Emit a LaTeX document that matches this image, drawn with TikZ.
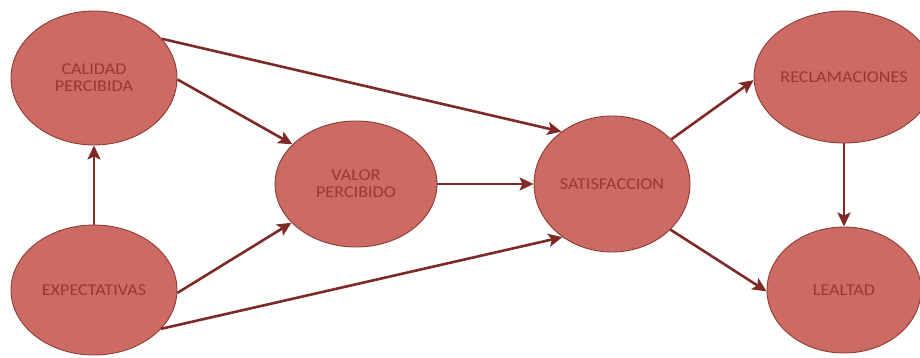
\documentclass[tikz,border=0pt]{standalone}
\usepackage{fontspec}
\setmainfont[FakeStretch=1.1]{Carlito}
\usetikzlibrary{shapes.geometric,arrows.meta}
\definecolor{bubblefill}{HTML}{CC6B63}
\definecolor{bubbleline}{HTML}{8E3A35}
\definecolor{bubbletext}{HTML}{983832}
\definecolor{arrowcol}{HTML}{7E2A26}
\tikzset{
  bubble/.style n args={2}{ellipse, draw=bubbleline, line width=0.9pt,
    fill=bubblefill, text=bubbletext, align=center, inner sep=0pt,
    minimum width=#1, minimum height=#2,
    font=\fontsize{16.5}{17}\selectfont},
  link/.style={draw=arrowcol, line width=2.6pt,
    -{Stealth[length=14pt,width=13pt,inset=3pt]}},
}
\begin{document}
\begin{tikzpicture}[x=1pt,y=-1pt]
  \useasboundingbox (0,0) rectangle (920,358);

  % constructs
  \node[bubble={166pt}{134pt}] (cal) at (94,78)  {CALIDAD\\PERCIBIDA};
  \node[bubble={166pt}{130pt}] (exp) at (94,290) {EXPECTATIVAS};
  \node[bubble={162pt}{126pt}] (val) at (356,184) {VALOR\\PERCIBIDO};
  \node[bubble={156pt}{136pt}] (sat) at (612,184) {SATISFACCION};
  \node[bubble={154pt}{132pt}] (rec) at (844,77) {RECLAMACIONES};
  \node[bubble={154pt}{126pt}] (lea) at (844,290) {LEALTAD};

  % relations
  \draw[link] (exp.north) -- (cal.south);
  \draw[link] (cal.30) -- (sat.134);
  \draw[link] (cal.-1) -- (val.148);
  \draw[link] (exp.-2) -- (val.211);
  \draw[link] (exp.-30) -- (sat.227);
  \draw[link] (val.east) -- (sat.west);
  \draw[link] (sat.37) -- (rec.182);
  \draw[link] (sat.-38) -- (lea.181);
  \draw[link] (rec.south) -- (lea.north);
\end{tikzpicture}
\end{document}
